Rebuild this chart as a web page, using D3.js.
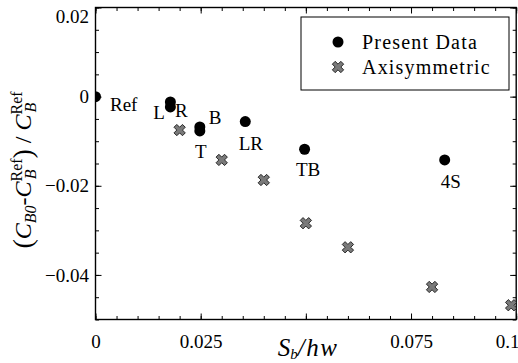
<!DOCTYPE html>
<html lang="en">
<head>
    <meta charset="UTF-8">
    <script src="https://d3js.org/d3.v7.min.js"></script>
    <title>CB0 vs Sb/hw</title>
    <style>
      body { margin: 0; background: #fff; }
    </style>
</head>
<body>
    <script>
    // tick values and labels (0.05 has no label: the axis title sits there)
    var xTicks = [0, 0.025, 0.05, 0.075, 0.1]
    var xTickLabels = ["0", "0.025", "", "0.075", "0.1"]
    var yTicks = [0.02, 0, -0.02, -0.04]
    var yTickLabels = ["0.02", "0", "\u22120.02", "\u22120.04"]

    // present data (black circles)
    var presentNames = ["Ref", "L", "R", "B", "T", "LR", "TB", "4S"]
    var presentX = [0, 0.0178, 0.0178, 0.0248, 0.0248, 0.0356, 0.0497, 0.0830]
    var presentY = [0, -0.0012, -0.0023, -0.0068, -0.0077, -0.0056, -0.0118, -0.0142]

    // axisymmetric (grey crosses)
    var axiX = [0.02, 0.03, 0.04, 0.05, 0.06, 0.08, 0.0988]
    var axiY = [-0.0075, -0.0142, -0.0187, -0.0284, -0.0338, -0.0427, -0.0468]

    var FONT = "'Liberation Serif', serif"

    var width = 518, height = 363
    var margin = { top: 7.5, right: 1.8, bottom: 43.5, left: 95.5 }

    var svg = d3.select("body").append("svg")
        .attr("width", width)
        .attr("height", height)

    var x = d3.scaleLinear()
        .domain([0, 0.1])
        .range([margin.left, width - margin.right])
    var y = d3.scaleLinear()
        .domain([-0.05, 0.02])
        .range([height - margin.bottom, margin.top])

    var x0 = x.range()[0], x1 = x.range()[1]
    var y0 = y.range()[0], y1 = y.range()[1]

    svg.append("clipPath").attr("id", "plotclip")
        .append("rect")
        .attr("x", x0).attr("y", y1)
        .attr("width", x1 - x0).attr("height", y0 - y1)

    var xMinor = d3.range(0, 0.1001, 0.005)
    var yMinor = d3.range(-0.05, 0.0201, 0.005)

    var none = function () { return "" }

    // ticks on all four sides, pointing inward (minor 3.5px, major 6px)
    function sides() {
        return [
            { a: d3.axisBottom(x), t: "translate(0," + y0 + ")", minor: xMinor, major: xTicks },
            { a: d3.axisTop(x), t: "translate(0," + y1 + ")", minor: xMinor, major: xTicks },
            { a: d3.axisLeft(y), t: "translate(" + x0 + ",0)", minor: yMinor, major: yTicks },
            { a: d3.axisRight(y), t: "translate(" + x1 + ",0)", minor: yMinor, major: yTicks }
        ]
    }
    sides().forEach(function (s) {
        svg.append("g").attr("transform", s.t)
            .call(s.a.tickValues(s.minor).tickSize(-3.5).tickFormat(none))
            .call(function (g) { g.select(".domain").remove(); g.selectAll("text").remove() })
            .selectAll("line").attr("stroke", "#000").attr("stroke-width", 1)
    })
    sides().forEach(function (s) {
        svg.append("g").attr("transform", s.t)
            .call(s.a.tickValues(s.major).tickSize(-6).tickFormat(none))
            .call(function (g) { g.select(".domain").remove(); g.selectAll("text").remove() })
            .selectAll("line").attr("stroke", "#000").attr("stroke-width", 1)
    })

    // tick labels
    var xAxisLab = svg.append("g").attr("transform", "translate(0," + y0 + ")")
        .call(d3.axisBottom(x).tickValues(xTicks).tickSize(0).tickPadding(15)
            .tickFormat(function (d, i) { return xTickLabels[i] }))
    xAxisLab.select(".domain").remove()
    xAxisLab.selectAll("text").attr("font-size", 19).style("font-family", FONT)
        .attr("dx", function (d) { return d === 0.1 ? -9 : 0 })

    var yAxisLab = svg.append("g").attr("transform", "translate(" + x0 + ",0)")
        .call(d3.axisLeft(y).tickValues(yTicks).tickSize(0).tickPadding(6.5)
            .tickFormat(function (d, i) { return yTickLabels[i] }))
    yAxisLab.select(".domain").remove()
    yAxisLab.selectAll("text").attr("font-size", 19).style("font-family", FONT)
        .attr("dy", function (d) { return d === 0.02 ? "0.8em" : "0.32em" })

    // frame
    svg.append("rect")
        .attr("x", x0).attr("y", y1)
        .attr("width", x1 - x0).attr("height", y0 - y1)
        .attr("fill", "none").attr("stroke", "#000").attr("stroke-width", 1.4)

    var plot = svg.append("g").attr("clip-path", "url(#plotclip)")

    var cross = d3.symbol().type(d3.symbolCross).size(80)

    plot.selectAll(".axi")
        .data(axiX)
        .enter()
        .append("path")
        .attr("class", "axi")
        .attr("d", cross)
        .attr("transform", function (d, i) { return "translate(" + x(d) + "," + y(axiY[i]) + ") rotate(45)" })
        .attr("fill", "#7a7a7a")
        .attr("stroke", "#222")
        .attr("stroke-width", 0.9)

    plot.selectAll(".pres")
        .data(presentX)
        .enter()
        .append("circle")
        .attr("class", "pres")
        .attr("cx", function (d) { return x(d) })
        .attr("cy", function (d, i) { return y(presentY[i]) })
        .attr("r", 5.5)
        .attr("fill", "#000")

    // point labels, offsets in px from each point
    var labelOffsets = {
        "Ref": [14.5, 14.5, "start"], "L": [-5.5, 17, "end"], "R": [4.5, 10, "start"],
        "B": [9, -3, "start"], "T": [1, 27, "middle"], "LR": [5.5, 28, "middle"],
        "TB": [3.5, 27, "middle"], "4S": [6, 28, "middle"]
    }
    svg.selectAll(".plab")
        .data(presentNames)
        .enter()
        .append("text")
        .attr("class", "plab")
        .attr("x", function (d, i) { return x(presentX[i]) + labelOffsets[d][0] })
        .attr("y", function (d, i) { return y(presentY[i]) + labelOffsets[d][1] })
        .attr("text-anchor", function (d) { return labelOffsets[d][2] })
        .attr("font-size", 19)
        .style("font-family", FONT)
        .text(function (d) { return d })

    // legend
    var legend = svg.append("g")
    legend.append("rect")
        .attr("x", 301).attr("y", 17).attr("width", 208).attr("height", 73)
        .attr("fill", "#fff").attr("stroke", "#000").attr("stroke-width", 1)
    legend.append("circle").attr("cx", 338).attr("cy", 42).attr("r", 5.5).attr("fill", "#000")
    legend.append("path").attr("d", cross)
        .attr("transform", "translate(338,67) rotate(45)")
        .attr("fill", "#7a7a7a").attr("stroke", "#222").attr("stroke-width", 0.9)
    legend.append("text").attr("x", 362).attr("y", 48.5).attr("font-size", 20)
        .style("font-family", FONT).attr("letter-spacing", 1.2).text("Present Data")
    legend.append("text").attr("x", 362).attr("y", 73.5).attr("font-size", 20)
        .style("font-family", FONT).attr("letter-spacing", 1.2).text("Axisymmetric")

    // x label
    var xl = svg.append("text")
        .attr("x", 308).attr("y", 356)
        .attr("text-anchor", "middle").attr("font-size", 25).attr("font-style", "italic")
        .style("font-family", FONT)
    xl.append("tspan").text("S")
    xl.append("tspan").attr("font-size", 15).attr("dy", 3).text("b")
    xl.append("tspan").attr("dy", -3).attr("letter-spacing", 1.5).text("/hw")

    // y label
    var yl = svg.append("text")
        .attr("transform", "translate(31,170) rotate(-90)")
        .attr("text-anchor", "middle").attr("font-size", 24)
        .style("font-family", FONT)
    yl.append("tspan").attr("font-size", 28).attr("dy", 1).text("(")
    yl.append("tspan").attr("dy", -1).attr("font-style", "italic").text("C")
    yl.append("tspan").attr("font-size", 16).attr("dy", 5).attr("font-style", "italic").text("B0")
    yl.append("tspan").attr("dy", -5).text("-")
    yl.append("tspan").attr("font-style", "italic").text("C")
    yl.append("tspan").attr("font-size", 16).attr("dy", -9).text("Ref")
    yl.append("tspan").attr("font-size", 16).attr("dx", -21).attr("dy", 14).attr("font-style", "italic").text("B")
    yl.append("tspan").attr("dx", 11).attr("dy", -4).attr("font-size", 28).text(")")
    yl.append("tspan").attr("dy", -1).text(" / ")
    yl.append("tspan").attr("font-style", "italic").text("C")
    yl.append("tspan").attr("font-size", 16).attr("dy", -9).text("Ref")
    yl.append("tspan").attr("font-size", 16).attr("dx", -21).attr("dy", 14).attr("font-style", "italic").text("B")
    </script>
</body>
</html>
